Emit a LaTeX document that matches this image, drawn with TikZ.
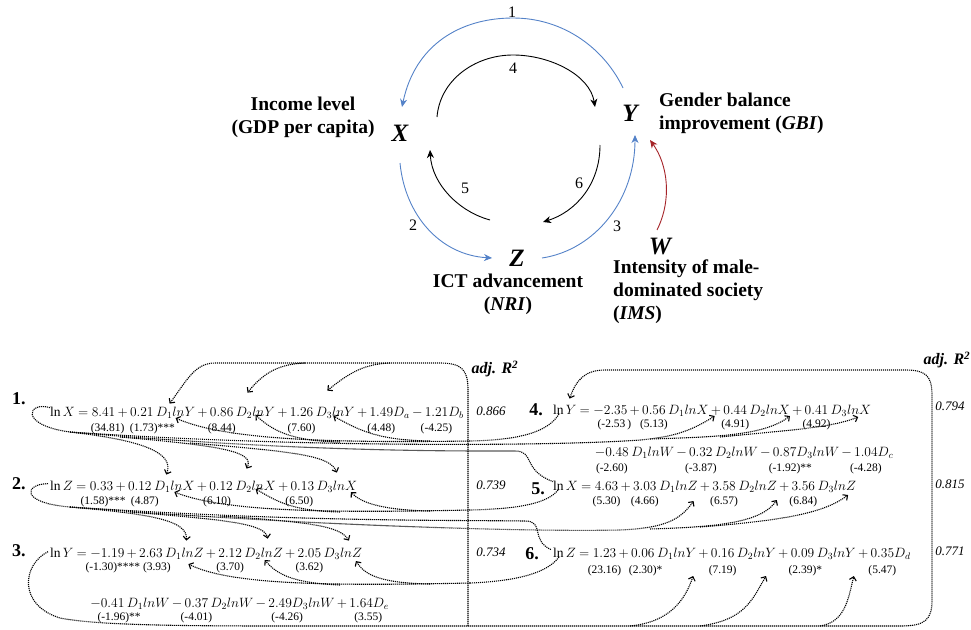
\RequirePackage{fix-cm}
\documentclass[tikz,border=0pt]{standalone}
\usepackage{amsmath}
\usepackage{fontspec}
\setmainfont{Liberation Serif}
\usetikzlibrary{arrows.meta}

\definecolor{arcblue}{RGB}{84,130,200}
\definecolor{arcred}{RGB}{165,35,40}

% operator spacing for the equations
\newcommand\eqspacing{\medmuskip=3mu\relax\thickmuskip=4.5mu\relax}
% one piece of an equation, set right after the previous piece
\newcommand\seg[3]{\node[eqf] (#2) at (#1.base east) {#3};}
% same, with a word space before it
\newcommand\sseg[3]{\node[eqf] (#2) at ([xshift=2.5pt]#1.base east) {#3};}

\begin{document}
\begin{tikzpicture}[x=1pt,y=-1pt,
  lbl/.style={font=\fontsize{19.5}{23}\selectfont\bfseries, inner sep=0pt},
  var/.style={font=\fontsize{25}{25}\selectfont\bfseries\itshape, inner sep=0pt},
  num/.style={font=\fontsize{16}{16}\selectfont, inner sep=0pt},
  eqf/.style={font=\fontsize{13.5}{16}\selectfont, execute at begin node=\eqspacing, inner sep=0pt, outer sep=0pt, anchor=base west},
  tv/.style={font=\fontsize{11.5}{12}\selectfont, inner sep=0pt, anchor=base},
  rownum/.style={font=\fontsize{18}{18}\selectfont\bfseries, inner sep=0pt},
  rsq/.style={font=\fontsize{13}{13}\selectfont\itshape, inner sep=0pt},
  adj/.style={font=\fontsize{16}{16}\selectfont\bfseries\itshape, inner sep=0pt},
  cyc/.style={line width=0.9pt, -{Stealth[length=8pt,width=7pt,inset=2.5pt]}},
  link/.style={line width=1.1pt, dash pattern=on 1.1pt off 0.9pt},
  linkarrow/.style={link, -{Straight Barb[length=3.5pt,width=7pt]}}]
\useasboundingbox (0,0) rectangle (971,629);

% ---------------- causal cycle ----------------
\node[var] (X) at (400,133) {X};
\node[var] (Y) at (630,113) {Y};
\node[var] (Z) at (517,258) {Z};
\node[var] (W) at (660,247) {W};
\node[lbl, align=center] (xl) at (303,117) {Income level\\(GDP per capita)};
\node[lbl, align=left, anchor=west] (yl) at (659,113.5) {Gender balance\\improvement (\textit{GBI})};
\node[lbl, align=center] (zl) at (508,294) {ICT advancement\\(\textit{NRI})};
\node[lbl, align=left, anchor=west] (wl) at (613,291.5) {Intensity of male-\\dominated society\\(\textit{IMS})};

% 1: Y -> X (outer)
\draw[cyc, arcblue] ([shift={(-7pt,25pt)}]Y.center) .. controls (605,50) and (565,18) .. (513,18)
  .. controls (460,18) and (415,45) .. ([shift={(2pt,26pt)}]X.center);
% 4: X -> Y (inner)
\draw[cyc] ([shift={(37pt,16pt)}]X.center) .. controls (440,80) and (475,55) .. (513,55)
  .. controls (550,55) and (590,75) .. ([shift={(-35pt,6pt)}]Y.center);
% 5: Z -> X
\draw[cyc] ([shift={(-27pt,38pt)}]Z.center) .. controls (460,212) and (432,185) .. ([shift={(30pt,-17pt)}]X.center);
% 6: Y -> Z
\draw[cyc] ([shift={(-30pt,-32pt)}]Y.center) .. controls (600,185) and (575,212) .. ([shift={(26pt,36pt)}]Z.center);
% 2: X -> Z
\draw[cyc, arcblue] ([shift={(0pt,-30pt)}]X.center) .. controls (405,215) and (440,255) .. ([shift={(-25pt,0pt)}]Z.center);
% 3: Z -> Y
\draw[cyc, arcblue] ([shift={(25pt,0pt)}]Z.center) .. controls (595,250) and (635,200) .. ([shift={(5pt,-22pt)}]Y.center);
% W -> Y
\draw[cyc, arcred] ([shift={(-3pt,17pt)}]W.center) .. controls (672,200) and (668,165) .. ([shift={(20pt,-27pt)}]Y.center);

\node[num] (n1) at (512,12) {1};
\node[num] (n4) at (513,68) {4};
\node[num] (n5) at (465,188) {5};
\node[num] (n6) at (579,183) {6};
\node[num] (n2) at (413,225) {2};
\node[num] (n3) at (617,226) {3};

% ---------------- regression equations ----------------
\node[adj] (adjL) at (495,369) {adj. R\textsuperscript{2}};
\node[adj] (adjR) at (947,360) {adj. R\textsuperscript{2}};

\node[rownum] (r1) at (19,399) {1.};
\node[rownum] (r2) at (19,484) {2.};
\node[rownum] (r3) at (19,551) {3.};
\node[rownum] (r4) at (536,410) {4.};
\node[rownum] (r5) at (538,489) {5.};
\node[rownum] (r6) at (532,554) {6.};

\node[rsq] (q1) at (491,411) {0.866};
\node[rsq] (q2) at (491,485) {0.739};
\node[rsq] (q3) at (491,552) {0.734};
\node[rsq] (q4) at (950,406) {0.794};
\node[rsq] (q5) at (950,484) {0.815};
\node[rsq] (q6) at (950,551) {0.771};

% eq 1
\node[eqf] (e1l) at (50,416) {$\ln X$};
\seg{e1l}{e1o0}{${}={}$}
\seg{e1o0}{e1c0}{$8.41$}
\seg{e1c0}{e1o1}{${}+{}$}
\seg{e1o1}{e1c1}{$0.21$}
\sseg{e1c1}{e1t1}{$D_1lnY$}
\seg{e1t1}{e1o2}{${}+{}$}
\seg{e1o2}{e1c2}{$0.86$}
\sseg{e1c2}{e1t2}{$D_2lnY$}
\seg{e1t2}{e1o3}{${}+{}$}
\seg{e1o3}{e1c3}{$1.26$}
\sseg{e1c3}{e1t3}{$D_3lnY$}
\seg{e1t3}{e1o4}{${}+{}$}
\seg{e1o4}{e1c4}{$1.49$}
\seg{e1c4}{e1t4}{$D_a$}
\seg{e1t4}{e1o5}{${}-{}$}
\seg{e1o5}{e1c5}{$1.21$}
\seg{e1c5}{e1t5}{$D_b$}
\node[tv] at ([shift={(4pt,-15pt)}]e1c0.base) {(34.81)};
\node[tv] at ([shift={(2pt,-15pt)}]e1c1.base) {(1.73)\rlap{***}};
\node[tv] at ([yshift=-15pt]e1c2.base) {(8.44)};
\node[tv] at ([yshift=-15pt]e1c3.base) {(7.60)};
\node[tv] at ([yshift=-15pt]e1c4.base) {(4.48)};
\node[tv] at ([yshift=-15pt]e1c5.base) {(-4.25)};

% eq 2
\node[eqf] (e2l) at (50,490) {$\ln Z$};
\seg{e2l}{e2o0}{${}={}$}
\seg{e2o0}{e2c0}{$0.33$}
\seg{e2c0}{e2o1}{${}+{}$}
\seg{e2o1}{e2c1}{$0.12$}
\sseg{e2c1}{e2t1}{$D_1lnX$}
\seg{e2t1}{e2o2}{${}+{}$}
\seg{e2o2}{e2c2}{$0.12$}
\sseg{e2c2}{e2t2}{$D_2lnX$}
\seg{e2t2}{e2o3}{${}+{}$}
\seg{e2o3}{e2c3}{$0.13$}
\sseg{e2c3}{e2t3}{$D_3lnX$}
\node[tv] at ([shift={(-7pt,-14pt)}]e2c0.base) {(1.58)\rlap{***}};
\node[tv] at ([shift={(5pt,-14pt)}]e2c1.base) {(4.87)};
\node[tv] at ([shift={(-4pt,-14pt)}]e2c2.base) {(6.10)};
\node[tv] at ([shift={(-3pt,-14pt)}]e2c3.base) {(6.50)};

% eq 3
\node[eqf] (e3l) at (50,557) {$\ln Y$};
\seg{e3l}{e3o0}{${}={}$}
\seg{e3o0}{e3c0}{$-1.19$}
\seg{e3c0}{e3o1}{${}+{}$}
\seg{e3o1}{e3c1}{$2.63$}
\sseg{e3c1}{e3t1}{$D_1lnZ$}
\seg{e3t1}{e3o2}{${}+{}$}
\seg{e3o2}{e3c2}{$2.12$}
\sseg{e3c2}{e3t2}{$D_2lnZ$}
\seg{e3t2}{e3o3}{${}+{}$}
\seg{e3o3}{e3c3}{$2.05$}
\sseg{e3c3}{e3t3}{$D_3lnZ$}
\node[tv] at ([shift={(-6pt,-13pt)}]e3c0.base) {(-1.30)\rlap{****}};
\node[tv] at ([shift={(6pt,-13pt)}]e3c1.base) {(3.93)};
\node[tv] at ([yshift=-13pt]e3c2.base) {(3.70)};
\node[tv] at ([yshift=-13pt]e3c3.base) {(3.62)};
% eq 3, second line
\node[eqf] (e3w0) at (e3c0.west |- 0,607) {$-0.41$};
\sseg{e3w0}{e3u1}{$D_1lnW$}
\seg{e3u1}{e3p1}{${}-{}$}
\seg{e3p1}{e3w1}{$0.37$}
\sseg{e3w1}{e3u2}{$D_2lnW$}
\seg{e3u2}{e3p2}{${}-{}$}
\seg{e3p2}{e3w2}{$2.49$}
\seg{e3w2}{e3u3}{$D_3lnW$}
\seg{e3u3}{e3p3}{${}+{}$}
\seg{e3p3}{e3w3}{$1.64$}
\seg{e3w3}{e3u4}{$D_e$}
\node[tv] at ([shift={(6pt,-13pt)}]e3w0.base) {(-1.96)\rlap{**}};
\node[tv] at ([yshift=-13pt]e3w1.base) {(-4.01)};
\node[tv] at ([shift={(7pt,-13pt)}]e3w2.base) {(-4.26)};
\node[tv] at ([shift={(7pt,-13pt)}]e3w3.base) {(3.55)};

% eq 4
\node[eqf] (e4l) at (553,414) {$\ln Y$};
\seg{e4l}{e4o0}{${}={}$}
\seg{e4o0}{e4c0}{$-2.35$}
\seg{e4c0}{e4o1}{${}+{}$}
\seg{e4o1}{e4c1}{$0.56$}
\sseg{e4c1}{e4t1}{$D_1lnX$}
\seg{e4t1}{e4o2}{${}+{}$}
\seg{e4o2}{e4c2}{$0.44$}
\sseg{e4c2}{e4t2}{$D_2lnX$}
\seg{e4t2}{e4o3}{${}+{}$}
\seg{e4o3}{e4c3}{$0.41$}
\sseg{e4c3}{e4t3}{$D_3lnX$}
\node[tv] at ([shift={(4pt,-13pt)}]e4c0.base) {(-2.53\,)};
\node[tv] at ([yshift=-13pt]e4c1.base) {(5.13)};
\node[tv] at ([yshift=-13pt]e4c2.base) {(4.91)};
\node[tv] at ([yshift=-13pt]e4c3.base) {(4.92)};

% eq 5
\node[eqf] (e5l) at (553,490) {$\ln X$};
\seg{e5l}{e5o0}{${}={}$}
\seg{e5o0}{e5c0}{$4.63$}
\seg{e5c0}{e5o1}{${}+{}$}
\seg{e5o1}{e5c1}{$3.03$}
\sseg{e5c1}{e5t1}{$D_1lnZ$}
\seg{e5t1}{e5o2}{${}+{}$}
\seg{e5o2}{e5c2}{$3.58$}
\sseg{e5c2}{e5t2}{$D_2lnZ$}
\seg{e5t2}{e5o3}{${}+{}$}
\seg{e5o3}{e5c3}{$3.56$}
\sseg{e5c3}{e5t3}{$D_3lnZ$}
\node[tv] at ([yshift=-14pt]e5c0.base) {(5.30)};
\node[tv] at ([yshift=-14pt]e5c1.base) {(4.66)};
\node[tv] at ([yshift=-14pt]e5c2.base) {(6.57)};
\node[tv] at ([yshift=-14pt]e5c3.base) {(6.84)};
% eq 5, line above
\node[eqf] (e5w0) at (e5c0.west |- 0,456) {$-0.48$};
\sseg{e5w0}{e5u1}{$D_1lnW$}
\seg{e5u1}{e5p1}{${}-{}$}
\seg{e5p1}{e5w1}{$0.32$}
\sseg{e5w1}{e5u2}{$D_2lnW$}
\seg{e5u2}{e5p2}{${}-{}$}
\seg{e5p2}{e5w2}{$0.87$}
\seg{e5w2}{e5u3}{$D_3lnW$}
\seg{e5u3}{e5p3}{${}-{}$}
\seg{e5p3}{e5w3}{$1.04$}
\seg{e5w3}{e5u4}{$D_c$}
\node[tv] at ([yshift=-15pt]e5w0.base) {(-2.60)};
\node[tv] at ([yshift=-15pt]e5w1.base) {(-3.87)};
\node[tv] at ([yshift=-15pt]e5w2.base) {(-1.92)\rlap{**}};
\node[tv] at ([yshift=-15pt]e5w3.base) {(-4.28)};

% eq 6
\node[eqf] (e6l) at (553,557) {$\ln Z$};
\seg{e6l}{e6o0}{${}={}$}
\seg{e6o0}{e6c0}{$1.23$}
\seg{e6c0}{e6o1}{${}+{}$}
\seg{e6o1}{e6c1}{$0.06$}
\sseg{e6c1}{e6t1}{$D_1lnY$}
\seg{e6t1}{e6o2}{${}+{}$}
\seg{e6o2}{e6c2}{$0.16$}
\sseg{e6c2}{e6t2}{$D_2lnY$}
\seg{e6t2}{e6o3}{${}+{}$}
\seg{e6o3}{e6c3}{$0.09$}
\sseg{e6c3}{e6t3}{$D_3lnY$}
\seg{e6t3}{e6o4}{${}+{}$}
\seg{e6o4}{e6c4}{$0.35$}
\seg{e6c4}{e6t4}{$D_d$}
\node[tv] at ([yshift=-16pt]e6c0.base) {(23.16)};
\node[tv] at ([yshift=-16pt]e6c1.base) {(2.30)\rlap{*}};
\node[tv] at ([yshift=-16pt]e6c2.base) {(7.19)};
\node[tv] at ([yshift=-16pt]e6c3.base) {(2.39)\rlap{*}};
\node[tv] at ([yshift=-16pt]e6c4.base) {(5.47)};

% ---------------- dotted links between the equations ----------------
% X of eq 1 feeds eq 2, eq 4 and eq 5
\draw[link] ([shift={(0pt,-1pt)}]e1l.north west) .. controls (28,401) and (18,425) .. (70,432) coordinate (aL);
\draw[linkarrow] (aL) .. controls (140,440) and (175,452) .. ([shift={(-8pt,6pt)}]e2t1.north);
\draw[linkarrow] (120,437) .. controls (225,446) and (255,452) .. ([shift={(-9pt,12pt)}]e2t2.north);
\draw[linkarrow] (190,443) .. controls (300,452) and (330,456) .. ([shift={(0pt,8pt)}]e2t3.north);
\draw[linkarrow] (aL) .. controls (300,448) and (560,446) .. (640,440) .. controls (670,437) and (688,433) .. ([shift={(6pt,0pt)}]e4t1.south east);
\draw[linkarrow] (650,439) .. controls (720,437) and (765,435) .. (e4t2.south east);
\draw[linkarrow] (720,437) .. controls (790,430) and (830,428) .. ([shift={(-13pt,-1pt)}]e4t3.south east);
\draw[link] (aL) .. controls (300,452) and (450,451) .. (515,451) .. controls (535,451) and (522,470) .. ([shift={(0pt,-1pt)}]e5l.north west);

% Y of eq 4 feeds eq 1
\draw[link] ([xshift=6pt]e4l.south west) .. controls (548,432) and (520,440) .. (470,441) coordinate (bL);
\draw[linkarrow] (bL) .. controls (330,443) and (225,440) .. (e1t1.south);
\draw[linkarrow] (340,442) .. controls (290,441) and (272,430) .. ([yshift=3pt]e1t2.south);
\draw[linkarrow] (430,441) .. controls (380,440) and (362,432) .. ([shift={(-2pt,2pt)}]e1t3.south);

% Z of eq 2 feeds eq 3, eq 5 and eq 6
\draw[link] ([shift={(-2pt,-3pt)}]e2l.north west) .. controls (24,484) and (20,503) .. (70,507) coordinate (cL);
\draw[linkarrow] (cL) .. controls (150,514) and (188,520) .. ([shift={(2pt,7pt)}]e3t1.north);
\draw[linkarrow] (130,512) .. controls (230,520) and (265,524) .. ([shift={(4pt,9pt)}]e3t2.north);
\draw[linkarrow] (220,516) .. controls (310,522) and (340,526) .. ([shift={(6pt,7pt)}]e3t3.north);
\draw[linkarrow] (cL) .. controls (300,525) and (520,532) .. (620,530) .. controls (665,528) and (680,520) .. ([shift={(-4pt,-9pt)}]e5t1.south east);
\draw[linkarrow] (650,529) .. controls (720,527) and (762,522) .. ([shift={(0pt,-8pt)}]e5t2.south east);
\draw[linkarrow] (700,527) .. controls (790,520) and (825,512) .. ([shift={(-8pt,-3pt)}]e5t3.south east);
\draw[link] (cL) .. controls (300,522) and (450,520) .. (525,521) .. controls (545,521) and (530,540) .. ([shift={(-2pt,-2pt)}]e6l.north west);

% X of eq 5 feeds eq 2
\draw[link] ([xshift=5pt]e5l.south west) .. controls (548,503) and (520,509) .. (470,510) coordinate (dL);
\draw[linkarrow] (dL) .. controls (330,513) and (225,512) .. (e2t1.south);
\draw[linkarrow] (340,512) .. controls (290,511) and (275,500) .. ([yshift=3pt]e2t2.south);
\draw[linkarrow] (430,511) .. controls (380,510) and (360,502) .. ([shift={(14pt,0pt)}]e2t3.south);

% Z of eq 6 feeds eq 3
\draw[link] ([xshift=6pt]e6l.south west) .. controls (548,572) and (520,581) .. (470,583) coordinate (eL);
\draw[linkarrow] (eL) .. controls (330,586) and (230,585) .. ([shift={(4pt,-5pt)}]e3t1.south);
\draw[linkarrow] (340,585) .. controls (290,583) and (276,573) .. ([shift={(1pt,-1pt)}]e3t2.south);
\draw[linkarrow] (430,584) .. controls (380,583) and (365,575) .. ([shift={(13pt,-2pt)}]e3t3.south);

% Y of eq 3 feeds eq 1, eq 4 and eq 6
\draw[linkarrow] ([shift={(-2pt,-4pt)}]e3l.north west) .. controls (22,565) and (18,605) .. (60,618)
  .. controls (100,626) and (200,626) .. (300,626) -- (900,626) .. controls (925,626) and (932,620) .. (932,600)
  -- (932,395) .. controls (932,375) and (925,370) .. (905,370) -- (605,370)
  .. controls (585,370) and (576,380) .. ([shift={(5pt,6pt)}]e4l.north);
\draw[linkarrow] (630,626) .. controls (670,622) and (685,600) .. ([shift={(-3pt,-17pt)}]e6t1.south east);
\draw[linkarrow] (700,626) .. controls (745,620) and (752,600) .. ([shift={(-10pt,-17pt)}]e6t2.south east);
\draw[linkarrow] (820,626) .. controls (845,622) and (848,600) .. ([shift={(-2pt,-17pt)}]e6t3.south east);
\draw[linkarrow] (468,626) -- (468,390) .. controls (468,370) and (462,363) .. (440,363) -- (215,363)
  .. controls (195,363) and (187,380) .. ([shift={(-6pt,3pt)}]e1t1.north);
\draw[linkarrow] (305,363) .. controls (280,364) and (264,372) .. ([shift={(-8pt,14pt)}]e1t2.north);
\draw[linkarrow] (390,363) .. controls (365,364) and (350,372) .. ([shift={(-8pt,16pt)}]e1t3.north);
\end{tikzpicture}
\end{document}
